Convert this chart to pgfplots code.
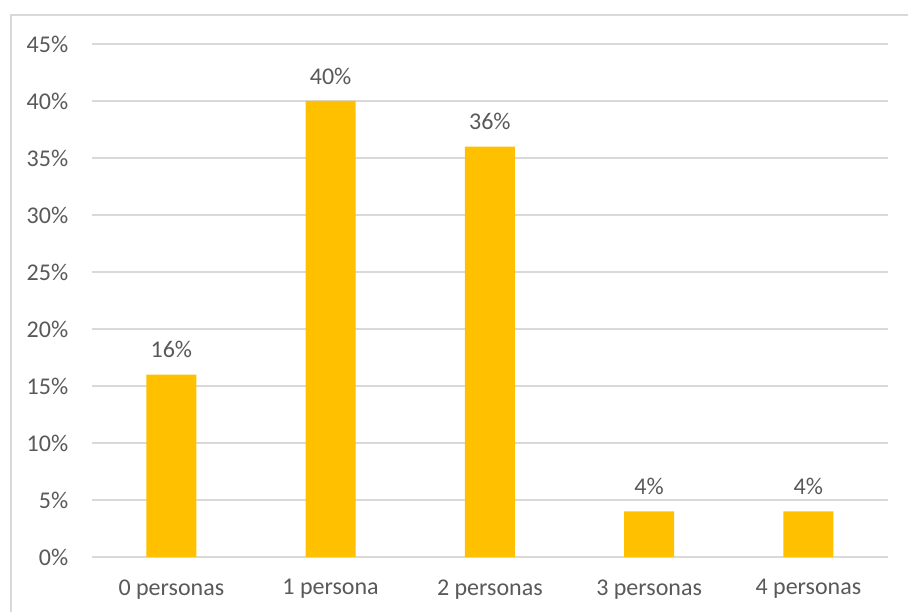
\documentclass[border=0pt]{standalone}
\usepackage{fontspec}
\setmainfont{Carlito}
\usepackage{pgfplots}
\pgfplotsset{compat=1.18}
\definecolor{barc}{HTML}{FFC000}
\definecolor{gridc}{HTML}{D9D9D9}
\definecolor{txt}{HTML}{595959}
\begin{document}
\begin{tikzpicture}[x=1bp,y=1bp]
\path[use as bounding box] (0,0) rectangle (908,612);
\draw[gridc, line width=1.5bp] (11,-5) -- (11,597) -- (915,597);
\begin{axis}[
  at={(91.7bp,55bp)}, anchor=south west,
  scale only axis, width=796.3bp, height=513bp,
  xmin=-0.5, xmax=4.5, ymin=0, ymax=45,
  axis line style={draw=none},
  ybar, bar width=50bp,
  ytick={0,5,...,45},
  ymajorgrids, grid style={gridc, line width=1.2bp},
  xtick={0,1,2,3,4},
  xticklabels={0 personas,1 persona,2 personas,3 personas,4 personas},
  yticklabel={\pgfmathprintnumber{\tick}\%},
  /pgf/number format/assume math mode=true,
  tick label style={font=\fontsize{24bp}{26bp}\selectfont, text=txt},
  yticklabel style={xshift=-20bp},
  xticklabel style={yshift=-19bp},
  major tick length=0pt,
  tick style={draw=none},
  nodes near coords={\pgfmathprintnumber{\pgfplotspointmeta}\%},
  nodes near coords style={font=\fontsize{24bp}{26bp}\selectfont, text=txt, yshift=13bp},
]
\draw[gridc, line width=1.2bp] (axis cs:-0.5,0) -- (axis cs:4.5,0);
\addplot[fill=barc, draw=none] coordinates {(0,16) (1,40) (2,36) (3,4) (4,4)};
\end{axis}
\end{tikzpicture}
\end{document}
